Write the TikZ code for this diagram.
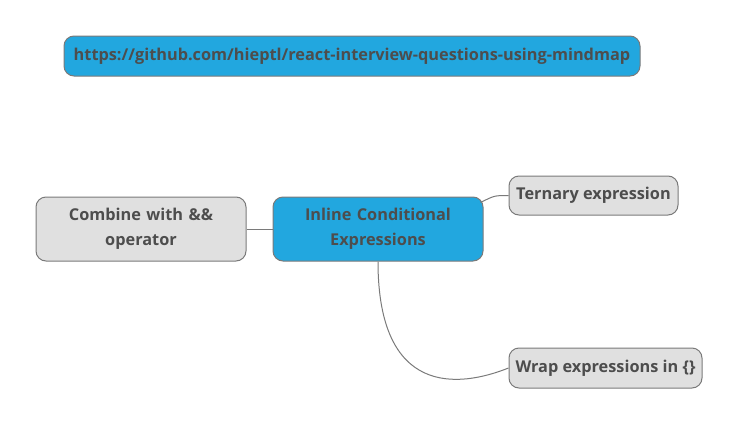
\documentclass[tikz,border=0pt]{standalone}
\usepackage{fontspec}
\setmainfont{Open Sans}
\usepackage{tikz}

\definecolor{mapblue}{HTML}{22A7DF}
\definecolor{mapgray}{HTML}{E0E0E0}
\definecolor{mapline}{HTML}{7A7A7A}
\definecolor{maptext}{HTML}{4D4D4D}

\tikzset{
  topic/.style={draw=mapline, line width=1pt, rounded corners=10pt,
    font=\fontsize{16.3}{24.5}\selectfont\bfseries, text=maptext, align=center,
    inner sep=0pt},
  maintopic/.style={topic, fill=mapblue},
  subtopic/.style={topic, fill=mapgray},
  branch/.style={draw=mapline, line width=1pt},
}

\begin{document}
\begin{tikzpicture}[x=1pt, y=-1pt]
  \useasboundingbox (0,0) rectangle (740,426);
  \node[maintopic, minimum width=576pt, minimum height=40pt] (url) at (352, 56)
    {https://github.com/hieptl/react-interview-questions-using-mindmap};
  \node[maintopic, minimum width=210pt, minimum height=64pt, text width=200pt] (root) at (378, 229)
    {Inline Conditional\\Expressions};
  \node[subtopic, minimum width=210pt, minimum height=64pt, text width=200pt] (combine) at (141, 229)
    {Combine with \&\&\\operator};
  \node[subtopic, minimum width=169pt, minimum height=39pt] (ternary) at (593.5, 195.5)
    {Ternary expression};
  \node[subtopic, minimum width=193pt, minimum height=40pt] (wrap) at (605.5, 368)
    {Wrap expressions in \{\}};
  \draw[branch] (combine.east) -- (root.west);
  \draw[branch] ([xshift=-3pt, yshift=-6pt]root.north east) .. controls ([xshift=-14pt]ternary.west) .. (ternary.west);
  \draw[branch] (root.south) .. controls ([yshift=-135pt]root.south) and ([xshift=-50pt, yshift=-20pt]wrap.west) .. (wrap.west);
\end{tikzpicture}
\end{document}
